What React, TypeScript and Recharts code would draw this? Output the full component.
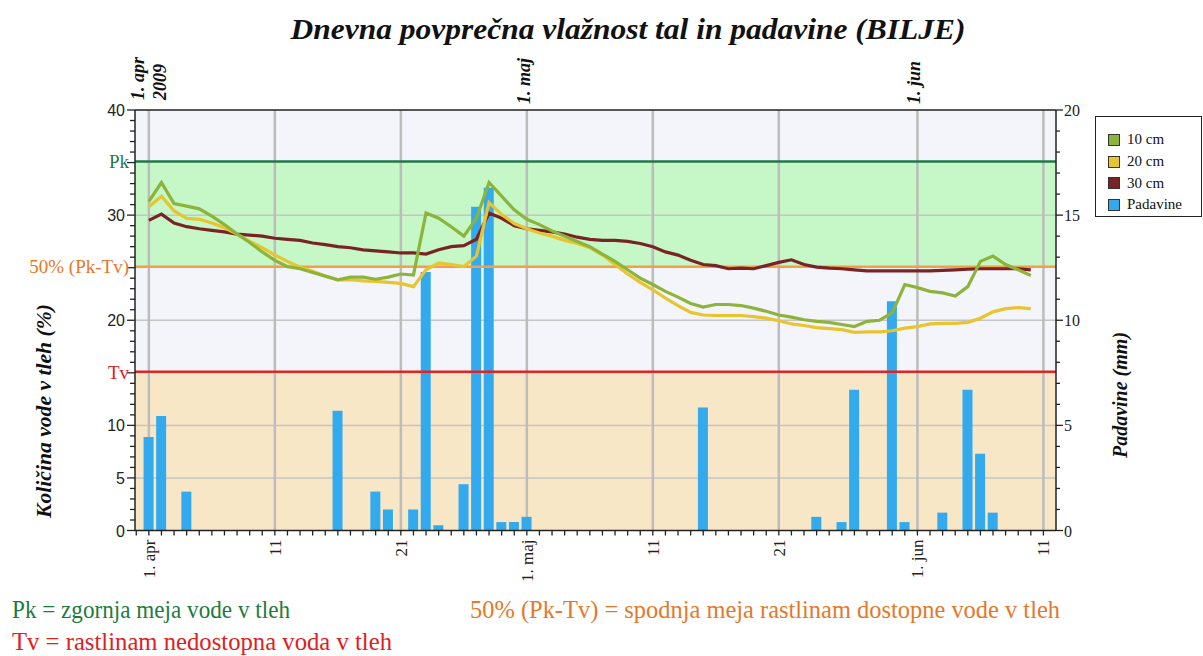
import React from "react";
import {
  ComposedChart, Line, Bar, XAxis, YAxis, ReferenceLine, ReferenceArea, Legend,
} from "recharts";

// Day index 0 = 1. apr 2009
const soil10 = [
  31.3, 33.1, 31.1, 30.85, 30.6, 29.9, 29.1, 28.2, 27.4, 26.5,
  25.7, 25.1, 24.9, 24.55, 24.2, 23.85, 24.1, 24.1, 23.9, 24.1,
  24.4, 24.3, 30.2, 29.7, 28.9, 28.0, 29.7, 33.1, 31.8, 30.5,
  29.6, 29.1, 28.5, 28.0, 27.5, 27.0, 26.3, 25.6, 24.8, 24.0,
  23.4, 22.75, 22.2, 21.6, 21.25, 21.5, 21.5, 21.4, 21.15, 20.85,
  20.5, 20.3, 20.05, 19.9, 19.8, 19.6, 19.4, 19.9, 20.0, 20.7,
  23.4, 23.1, 22.75, 22.6, 22.3, 23.2, 25.6, 26.1, 25.3, 24.8,
  24.25,
];
const soil20 = [
  30.8, 31.8, 30.4, 29.7, 29.6, 29.25, 28.8, 28.2, 27.5, 26.9,
  26.2, 25.6, 25.05, 24.65, 24.2, 23.85, 23.85, 23.75, 23.7, 23.6,
  23.5, 23.2, 24.8, 25.45, 25.3, 25.1, 26.1, 31.2, 30.05, 29.2,
  28.7, 28.3, 28.0, 27.6, 27.3, 26.9, 26.2, 25.3, 24.4, 23.6,
  22.9, 22.1, 21.4, 20.75, 20.5, 20.45, 20.45, 20.45, 20.35, 20.2,
  19.95, 19.65, 19.5, 19.3, 19.2, 19.1, 18.85, 18.9, 18.9, 19.0,
  19.25, 19.4, 19.65, 19.7, 19.7, 19.8, 20.2, 20.8, 21.1, 21.2,
  21.1,
];
const soil30 = [
  29.5, 30.1, 29.25, 28.9, 28.7, 28.55, 28.4, 28.2, 28.1, 28.0,
  27.8, 27.7, 27.6, 27.35, 27.2, 27.0, 26.9, 26.7, 26.6, 26.5,
  26.4, 26.4, 26.3, 26.7, 27.0, 27.1, 27.7, 30.2, 29.7, 29.0,
  28.7, 28.55, 28.4, 28.2, 27.9, 27.7, 27.6, 27.6, 27.5, 27.3,
  27.0, 26.5, 26.2, 25.7, 25.3, 25.2, 24.9, 24.95, 24.9, 25.2,
  25.5, 25.75, 25.3, 25.05, 24.95, 24.9, 24.8, 24.7, 24.7, 24.7,
  24.7, 24.7, 24.7, 24.75, 24.8, 24.85, 24.9, 24.9, 24.9, 24.9,
  24.8,
];
const rain: (number | null)[] = [
  4.45, 5.45, null, 1.85, null, null, null, null, null, null,
  null, null, null, null, null, 5.7, null, null, 1.85, 1.0,
  null, 1.0, 12.3, 0.25, null, 2.2, 15.4, 16.3, 0.4, 0.4,
  0.65, null, null, null, null, null, null, null, null, null,
  null, null, null, null, 5.85, null, null, null, null, null,
  null, null, null, 0.65, null, 0.4, 6.7, null, null, 10.9,
  0.4, null, null, 0.85, null, 6.7, 3.65, 0.85, null, null,
  null,
];

const xTickDays = [0, 10, 20, 30, 40, 50, 61, 71];
const xTickLabels = ["1. apr", "11", "21", "1. maj", "11", "21", "1. jun", "11"];
const topTickDays = [0, 30, 61];
const topTickLabels = [["1. apr", "2009"], ["1. maj"], ["1. jun"]];
const leftLabelTicks = [0, 5, 10, 20, 30, 40];
const rightLabelTicks = [0, 5, 10, 15, 20];
const hGridValues = [5, 10, 20, 30];

const PK = 35.1;
const TV = 15.1;
const MID = 25.1;

const seriesNames = ["10 cm", "20 cm", "30 cm", "Padavine"];
const seriesColors = ["#8db43a", "#e8c42e", "#7a2326", "#33aaee"];

const data = soil10.map((v, i) => ({
  day: i, t10: v, t20: soil20[i], t30: soil30[i], rain: rain[i],
}));

const SERIF = "Liberation Serif, DejaVu Serif, serif";
const NARROW = "Liberation Sans Narrow, Liberation Sans, sans-serif";

const allDayTicks = Array.from({ length: 73 }, (_, i) => i - 1);
const leftMinor = Array.from({ length: 41 }, (_, i) => i);
const rightMinor = Array.from({ length: 21 }, (_, i) => i);

const BottomTick = (p: any) => {
  const { x, y, payload } = p;
  const idx = xTickDays.indexOf(payload.value);
  return (
    <g>
      <line x1={x} x2={x} y1={y} y2={y + 5} stroke="#222" strokeWidth={1.3} />
      {idx >= 0 && (
        <text
          x={0} y={0} textAnchor="end"
          transform={`translate(${x + 6},${y + 9}) rotate(-90)`}
          fontFamily={SERIF} fontSize={17} fill="#222"
        >
          {xTickLabels[idx]}
        </text>
      )}
    </g>
  );
};

const TopLabel = (p: any) => {
  const { viewBox, lines } = p;
  if (!viewBox) return null;
  const x = viewBox.x;
  const y = viewBox.y;
  const two = lines.length > 1;
  return (
    <g>
      {lines.map((t: string, k: number) => (
        <text
          key={k} x={0} y={0} textAnchor="start"
          transform={`translate(${two ? x - 5 + k * 22 : x + 3},${two ? y - 10 : y - 6}) rotate(-90)`}
          fontFamily={SERIF} fontSize={18} fontWeight="bold" fontStyle="italic" fill="#111"
        >
          {t}
        </text>
      ))}
    </g>
  );
};

const LeftTick = (p: any) => {
  const { x, y, payload } = p;
  const v = payload.value;
  const major = v % 5 === 0;
  return (
    <g>
      <line x1={x} x2={x - (major ? 8 : 5)} y1={y} y2={y} stroke="#222" strokeWidth={1.3} />
      {leftLabelTicks.includes(v) && (
        <text x={x - 10} y={y + 6} textAnchor="end" fontFamily={NARROW} fontSize={16} fill="#222">
          {v}
        </text>
      )}
    </g>
  );
};

const RightTick = (p: any) => {
  const { x, y, payload } = p;
  const v = payload.value;
  const major = v % 5 === 0;
  return (
    <g>
      <line x1={x} x2={x + (major ? 7 : 4)} y1={y} y2={y} stroke="#222" strokeWidth={1.3} />
      {rightLabelTicks.includes(v) && (
        <text x={x + 8} y={y + 6} textAnchor="start" fontFamily={SERIF} fontSize={16} fill="#222">
          {v}
        </text>
      )}
    </g>
  );
};

const LegendBox = () => (
  <div
    style={{
      border: "1px solid #222", background: "#fff", width: 107, height: 101,
      boxSizing: "border-box", padding: "12px 0 0 12px", fontFamily: SERIF, fontSize: 15,
    }}
  >
    {seriesNames.map((n, i) => (
      <div key={n} style={{ display: "flex", alignItems: "center", height: 21.7 }}>
        <span
          style={{
            width: 12, height: 12, background: seriesColors[i], border: "1px solid #333",
            display: "inline-block", marginRight: 7, boxSizing: "border-box",
          }}
        />
        <span style={{ color: "#111" }}>{n}</span>
      </div>
    ))}
  </div>
);

export default function App() {
  return (
    <div style={{ position: "absolute", left: 0, top: 0, width: 1203, height: 656, background: "#fff" }}>
      <ComposedChart
        width={1203}
        height={656}
        data={data}
        margin={{ top: 110, right: 87, left: 35, bottom: 85.5 }}
      >
        <XAxis
          dataKey="day" type="number" domain={[-1.1, 72]} allowDataOverflow
          ticks={allDayTicks} interval={0} tick={<BottomTick />}
          tickLine={false} tickSize={0} tickMargin={0} height={40}
          axisLine={{ stroke: "#222", strokeWidth: 1.5 }}
        />
        <YAxis
          yAxisId="left" domain={[0, 40]} ticks={leftMinor} interval={0} tick={<LeftTick />}
          tickLine={false} tickSize={0} tickMargin={0} width={100}
          axisLine={{ stroke: "#222", strokeWidth: 1.5 }}
        />
        <YAxis
          yAxisId="right" orientation="right" domain={[0, 20]} ticks={rightMinor} interval={0}
          tick={<RightTick />} tickLine={false} tickSize={0} tickMargin={0} width={60}
          axisLine={{ stroke: "#222", strokeWidth: 1.5 }}
        />

        <ReferenceArea yAxisId="left" y1={0} y2={TV} fill="#f8e7c6" fillOpacity={1} stroke="none" zIndex={-300} />
        <ReferenceArea yAxisId="left" y1={TV} y2={MID} fill="#f4f4fb" fillOpacity={1} stroke="none" zIndex={-300} />
        <ReferenceArea yAxisId="left" y1={MID} y2={PK} fill="#c6f7c6" fillOpacity={1} stroke="none" zIndex={-300} />
        <ReferenceArea yAxisId="left" y1={PK} y2={40} fill="#f4f4fb" fillOpacity={1} stroke="none" zIndex={-300} />

        {hGridValues.map((v) => (
          <ReferenceLine key={"h" + v} yAxisId="left" y={v} stroke="#c4c4c4" strokeWidth={1.5} zIndex={-200} />
        ))}
        {xTickDays.map((d) => {
          const ti = topTickDays.indexOf(d);
          return (
            <ReferenceLine
              key={"v" + d} yAxisId="left" x={d} stroke="#bcbcbc" strokeWidth={2.5} zIndex={-200}
              label={ti >= 0 ? <TopLabel lines={topTickLabels[ti]} /> : undefined}
            />
          );
        })}

        <Bar
          yAxisId="right" dataKey="rain" name="Padavine" fill={seriesColors[3]} barSize={10}
          isAnimationActive={false}
        />

        <ReferenceLine
          yAxisId="left" y={PK} stroke="#1f7a4a" strokeWidth={2.5} zIndex={350}
          label={{ value: "Pk", position: "left", fill: "#1f7a4a", fontSize: 19, fontFamily: SERIF, offset: 6 }}
        />
        <ReferenceLine
          yAxisId="left" y={MID} stroke="#f0a048" strokeWidth={2.5} zIndex={350}
          label={{ value: "50% (Pk-Tv)", position: "left", fill: "#e6782a", fontSize: 19, fontFamily: SERIF, offset: 6 }}
        />
        <ReferenceLine
          yAxisId="left" y={TV} stroke="#e02424" strokeWidth={2.5} zIndex={350}
          label={{ value: "Tv", position: "left", fill: "#d42020", fontSize: 19, fontFamily: SERIF, offset: 6 }}
        />

        <Line yAxisId="left" dataKey="t30" name="30 cm" stroke={seriesColors[2]} strokeWidth={3.2} dot={false} type="linear" isAnimationActive={false} />
        <Line yAxisId="left" dataKey="t20" name="20 cm" stroke={seriesColors[1]} strokeWidth={3.2} dot={false} type="linear" isAnimationActive={false} />
        <Line yAxisId="left" dataKey="t10" name="10 cm" stroke={seriesColors[0]} strokeWidth={3.2} dot={false} type="linear" isAnimationActive={false} />

        <ReferenceLine yAxisId="left" y={40} stroke="#222" strokeWidth={1.5} zIndex={500} />

        <Legend
          layout="vertical" align="center" verticalAlign="middle"
          content={<LegendBox />}
          wrapperStyle={{ left: 1095, top: 116, width: 107, height: 101 }}
        />

        <text x={628} y={39} textAnchor="middle" fontFamily={SERIF} fontSize={30} fontWeight="bold" fontStyle="italic" fill="#111" textLength={675} lengthAdjust="spacingAndGlyphs">
          Dnevna povprečna vlažnost tal in padavine (BILJE)
        </text>
        <text
          x={0} y={0} textAnchor="middle" transform="translate(51,411) rotate(-90)"
          fontFamily={SERIF} fontSize={20} fontWeight="bold" fontStyle="italic" fill="#111" textLength={214} lengthAdjust="spacingAndGlyphs"
        >
          Količina vode v tleh (%)
        </text>
        <text
          x={0} y={0} textAnchor="middle" transform="translate(1127,395) rotate(-90)"
          fontFamily={SERIF} fontSize={20} fontWeight="bold" fontStyle="italic" fill="#111"
        >
          Padavine (mm)
        </text>
        <text x={12} y={618} fontFamily={SERIF} fontSize={25} fill="#1e7a40" textLength={278} lengthAdjust="spacingAndGlyphs">
          Pk = zgornja meja vode v tleh
        </text>
        <text x={470} y={618} fontFamily={SERIF} fontSize={25} fill="#e6782a" textLength={590} lengthAdjust="spacingAndGlyphs">
          50% (Pk-Tv) = spodnja meja rastlinam dostopne vode v tleh
        </text>
        <text x={12} y={650} fontFamily={SERIF} fontSize={25} fill="#e02020" textLength={380} lengthAdjust="spacingAndGlyphs">
          Tv = rastlinam nedostopna voda v tleh
        </text>
      </ComposedChart>
    </div>
  );
}
